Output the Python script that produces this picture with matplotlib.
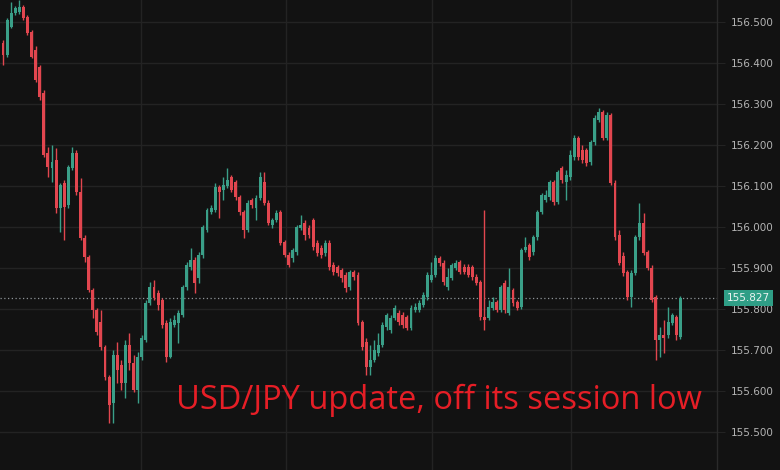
import matplotlib
matplotlib.use("Agg")
import matplotlib.pyplot as plt
import numpy as np

# USD/JPY intraday candles
opens = [
    156.449, 156.420, 156.488, 156.522, 156.525, 156.537, 156.512, 156.476, 156.432, 156.390,
    156.327, 156.181, 156.144, 156.164, 156.046, 156.107, 156.054, 156.144, 156.181, 156.086,
    155.973, 155.927, 155.846, 155.798, 155.768, 155.707, 155.634, 155.571, 155.688, 155.663,
    155.620, 155.712, 155.668, 155.602, 155.683, 155.724, 155.815, 155.854, 155.839, 155.822,
    155.766, 155.683, 155.761, 155.766, 155.785, 155.854, 155.903, 155.920, 155.876, 155.932,
    155.993, 156.037, 156.042, 156.098, 156.090, 156.100, 156.122, 156.110, 156.073, 156.037,
    155.993, 156.066, 156.046, 156.071, 156.110, 156.059, 156.005, 156.017, 156.037, 155.964,
    155.932, 155.925, 155.939, 155.998, 156.010, 155.998, 156.017, 155.961, 155.949, 155.937,
    155.961, 155.907, 155.903, 155.895, 155.883, 155.854, 155.890, 155.883, 155.768, 155.720,
    155.659, 155.676, 155.693, 155.712, 155.756, 155.749, 155.778, 155.790, 155.785, 155.781,
    155.754, 155.798, 155.798, 155.810, 155.829, 155.871, 155.883, 155.925, 155.912, 155.854,
    155.876, 155.900, 155.915, 155.903, 155.903, 155.903, 155.878, 155.866, 155.781, 155.778,
    155.803, 155.817, 155.798, 155.864, 155.790, 155.846, 155.817, 155.805, 155.944, 155.956,
    155.939, 155.976, 156.037, 156.066, 156.073, 156.110, 156.061, 156.144, 156.110, 156.122,
    156.171, 156.217, 156.188, 156.188, 156.159, 156.208, 156.261, 156.281, 156.217, 156.273,
    156.107, 155.981, 155.930, 155.890, 155.829, 155.888, 155.976, 156.010, 155.939, 155.900,
    155.829, 155.724, 155.737, 155.737, 155.766, 155.781, 155.732,
]
highs = [
    156.456, 156.510, 156.549, 156.539, 156.554, 156.542, 156.517, 156.481, 156.442, 156.395,
    156.334, 156.195, 156.200, 156.193, 156.107, 156.115, 156.151, 156.195, 156.188, 156.120,
    155.981, 155.932, 155.851, 155.803, 155.798, 155.712, 155.639, 155.700, 155.720, 155.676,
    155.724, 155.742, 155.688, 155.695, 155.737, 155.822, 155.866, 155.871, 155.846, 155.827,
    155.773, 155.778, 155.785, 155.798, 155.859, 155.915, 155.949, 155.927, 155.939, 156.005,
    156.046, 156.054, 156.107, 156.103, 156.122, 156.144, 156.127, 156.115, 156.078, 156.042,
    156.066, 156.071, 156.078, 156.134, 156.134, 156.066, 156.022, 156.042, 156.042, 155.968,
    155.939, 155.949, 156.005, 156.029, 156.017, 156.005, 156.022, 155.968, 155.956, 155.968,
    155.968, 155.915, 155.907, 155.900, 155.890, 155.895, 155.895, 155.890, 155.773, 155.729,
    155.712, 155.724, 155.742, 155.768, 155.790, 155.785, 155.810, 155.798, 155.793, 155.785,
    155.810, 155.815, 155.822, 155.842, 155.890, 155.915, 155.932, 155.929, 155.920, 155.900,
    155.912, 155.920, 155.920, 155.910, 155.910, 155.907, 155.885, 155.871, 156.042, 155.822,
    155.829, 155.822, 155.859, 155.871, 155.900, 155.851, 155.822, 155.949, 155.976, 155.961,
    155.981, 156.042, 156.083, 156.090, 156.115, 156.115, 156.139, 156.149, 156.139, 156.188,
    156.225, 156.222, 156.200, 156.193, 156.212, 156.273, 156.291, 156.286, 156.281, 156.278,
    156.115, 155.993, 155.940, 155.895, 155.895, 155.981, 156.059, 156.034, 155.944, 155.907,
    155.834, 155.756, 155.773, 155.805, 155.790, 155.785, 155.832,
]
lows = [
    156.395, 156.415, 156.486, 156.517, 156.520, 156.505, 156.469, 156.412, 156.354, 156.310,
    156.171, 156.122, 156.110, 156.034, 155.988, 155.968, 156.046, 156.139, 156.078, 155.968,
    155.915, 155.842, 155.778, 155.737, 155.700, 155.627, 155.522, 155.522, 155.620, 155.602,
    155.583, 155.651, 155.598, 155.571, 155.676, 155.720, 155.810, 155.822, 155.798, 155.754,
    155.671, 155.681, 155.756, 155.717, 155.781, 155.846, 155.895, 155.839, 155.864, 155.925,
    155.988, 156.032, 156.037, 156.022, 156.066, 156.095, 156.086, 156.066, 156.029, 155.973,
    155.988, 156.046, 156.017, 156.066, 156.054, 156.005, 155.998, 156.012, 155.956, 155.927,
    155.903, 155.915, 155.932, 155.993, 155.968, 155.973, 155.944, 155.929, 155.925, 155.929,
    155.895, 155.883, 155.881, 155.866, 155.842, 155.846, 155.871, 155.761, 155.700, 155.639,
    155.639, 155.671, 155.685, 155.707, 155.749, 155.742, 155.773, 155.761, 155.754, 155.749,
    155.749, 155.793, 155.793, 155.805, 155.822, 155.866, 155.878, 155.905, 155.859, 155.846,
    155.871, 155.895, 155.885, 155.885, 155.878, 155.871, 155.859, 155.773, 155.749, 155.773,
    155.798, 155.793, 155.793, 155.790, 155.785, 155.807, 155.798, 155.800, 155.939, 155.920,
    155.932, 155.968, 156.032, 156.061, 156.066, 156.054, 156.056, 156.107, 156.066, 156.115,
    156.164, 156.164, 156.156, 156.149, 156.151, 156.200, 156.256, 156.212, 156.212, 156.103,
    155.968, 155.907, 155.881, 155.822, 155.805, 155.883, 155.968, 155.932, 155.895, 155.817,
    155.676, 155.683, 155.693, 155.729, 155.761, 155.724, 155.727,
]
closes = [
    156.420, 156.505, 156.522, 156.534, 156.537, 156.510, 156.473, 156.415, 156.359, 156.317,
    156.176, 156.146, 156.159, 156.046, 156.103, 156.049, 156.146, 156.181, 156.086, 155.973,
    155.927, 155.846, 155.798, 155.744, 155.707, 155.634, 155.566, 155.688, 155.651, 155.620,
    155.712, 155.668, 155.602, 155.683, 155.729, 155.815, 155.854, 155.827, 155.810, 155.761,
    155.683, 155.768, 155.773, 155.790, 155.854, 155.907, 155.920, 155.864, 155.932, 156.000,
    156.042, 156.046, 156.098, 156.086, 156.103, 156.115, 156.090, 156.073, 156.037, 155.993,
    156.059, 156.054, 156.071, 156.122, 156.059, 156.010, 156.017, 156.034, 155.961, 155.932,
    155.907, 155.944, 156.000, 156.005, 155.981, 155.981, 155.951, 155.937, 155.932, 155.961,
    155.903, 155.890, 155.888, 155.876, 155.851, 155.890, 155.878, 155.766, 155.707, 155.659,
    155.676, 155.700, 155.712, 155.761, 155.785, 155.778, 155.803, 155.768, 155.761, 155.754,
    155.803, 155.805, 155.815, 155.834, 155.883, 155.883, 155.925, 155.912, 155.866, 155.878,
    155.907, 155.912, 155.890, 155.890, 155.883, 155.878, 155.864, 155.781, 155.773, 155.805,
    155.817, 155.798, 155.854, 155.798, 155.854, 155.815, 155.803, 155.944, 155.951, 155.927,
    155.976, 156.037, 156.078, 156.078, 156.110, 156.061, 156.134, 156.115, 156.127, 156.176,
    156.217, 156.171, 156.164, 156.156, 156.208, 156.266, 156.281, 156.217, 156.273, 156.107,
    155.976, 155.912, 155.888, 155.829, 155.888, 155.976, 156.010, 155.937, 155.900, 155.822,
    155.724, 155.737, 155.729, 155.768, 155.785, 155.737, 155.827,
]
price_ticks = [155.5, 155.6, 155.7, 155.8, 155.9, 156.0, 156.1, 156.2, 156.3, 156.4, 156.5]
last_price = 155.827
headline = "USD/JPY update, off its session low"

BG = "#121212"
GRID = "#232323"
UP = "#3a9f88"
DOWN = "#e2464f"
LABEL = "#b4b4b4"

o = np.array(opens)
h = np.array(highs)
l = np.array(lows)
c = np.array(closes)
idx = np.arange(len(c))
up = c >= o
colors = np.where(up, UP, DOWN)

fig = plt.figure(figsize=(7.8, 4.7), dpi=100, facecolor=BG)
ax = fig.add_axes([0, 0, 717 / 780, 1])
ax.set_facecolor(BG)

# wicks then bodies
ax.vlines(idx, l, h, colors=colors, linewidth=1.0, zorder=3)
body_lo = np.minimum(o, c)
body_h = np.maximum(np.abs(c - o), 0.002)
ax.bar(idx, body_h, bottom=body_lo, width=0.72, color=colors, linewidth=0, zorder=4)

ax.set_xlim(-0.74, 175.0)
ax.set_ylim(155.408, 156.554)

# grid
ax.set_yticks(price_ticks)
ax.set_xticks([33.8, 69.4, 105.1, 139.2])
ax.set_xticklabels([])
ax.grid(True, color=GRID, linewidth=1.0, zorder=0)
ax.tick_params(axis="x", length=0)
ax.yaxis.tick_right()
ax.tick_params(axis="y", length=6, color=GRID, pad=4, labelcolor=LABEL, labelsize=7.5)
ax.set_yticklabels([f"{t:.3f}" for t in price_ticks])
for lab in ax.get_yticklabels():
    lab.set_fontfamily("DejaVu Sans")

for side in ["top", "left", "bottom"]:
    ax.spines[side].set_visible(False)
ax.spines["right"].set_color("#2a2a2a")
ax.spines["right"].set_linewidth(1.0)

# last price line and tag
ax.axhline(last_price, color="#8f9499", linewidth=0.9, linestyle=(0, (1, 2)), zorder=2)
ax.annotate(f"{last_price:.3f}", xy=(1, last_price), xycoords=("axes fraction", "data"),
            xytext=(7, 0), textcoords="offset points", ha="left", va="center",
            color="#eaf4f1", fontsize=7.5,
            bbox=dict(boxstyle="square,pad=0.28", fc="#2f9e86", ec="none"),
            annotation_clip=False, zorder=10)

# headline
ax.text(0.245, 0.13, headline, transform=ax.transAxes, color="#e61e26",
        fontsize=23.5, fontfamily="Open Sans", ha="left", va="baseline", zorder=8)

fig.savefig("out.png", dpi=100, facecolor=BG)
